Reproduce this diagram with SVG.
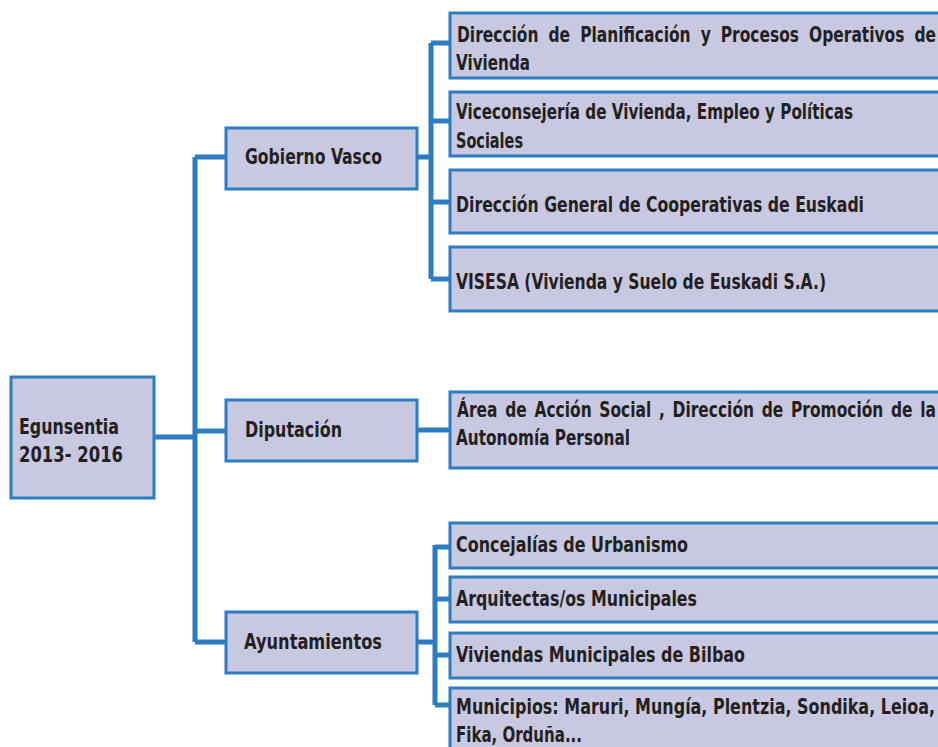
<svg xmlns="http://www.w3.org/2000/svg" width="938" height="747" viewBox="0 0 938 747">
<style>
.box{fill:#c8c8e0;stroke:#2d7cc0;stroke-width:3}
.ln{fill:none;stroke:#2d7cc0;stroke-width:5}
text{font-family:"Liberation Sans Narrow","DejaVu Sans Condensed","Liberation Sans",sans-serif;font-weight:bold;font-size:22px;fill:#231f20}
.j{word-spacing:6px}
.j2{word-spacing:3px}
</style>
<rect width="938" height="747" fill="#ffffff"/>
<g id="connectors">
<path class="ln" d="M154 437H195M195 157V642M195 157H226M195 431H226M195 642H226"/>
<path class="ln" d="M417 157H431M431 43V279M431 43H450M431 121H450M431 202H450M431 279H450"/>
<path class="ln" d="M417 430H450"/>
<path class="ln" d="M417 642H435M435 545V705M435 547H450M435 599H450M435 655H450M435 705H450"/>
</g>
<g id="root"><rect class="box" x="11" y="377" width="143" height="121"/>
<text x="19" y="434" textLength="100" lengthAdjust="spacingAndGlyphs">Egunsentia</text>
<text x="19" y="462" textLength="104" lengthAdjust="spacingAndGlyphs">2013- 2016</text></g>
<g id="gobierno"><rect class="box" x="226" y="128" width="191" height="61"/>
<text x="245" y="164" textLength="137" lengthAdjust="spacingAndGlyphs">Gobierno Vasco</text></g>
<g id="diputacion"><rect class="box" x="226" y="400" width="191" height="61"/>
<text x="245" y="437" textLength="97" lengthAdjust="spacingAndGlyphs">Diputación</text></g>
<g id="ayuntamientos"><rect class="box" x="226" y="612" width="191" height="61"/>
<text x="244" y="649" textLength="138" lengthAdjust="spacingAndGlyphs">Ayuntamientos</text></g>
<g id="c1"><rect class="box" x="450" y="13" width="495" height="65"/>
<text class="j" x="457" y="42" textLength="479" lengthAdjust="spacingAndGlyphs">Dirección de Planificación y Procesos Operativos de</text>
<text x="456" y="70" textLength="74" lengthAdjust="spacingAndGlyphs">Vivienda</text></g>
<g id="c2"><rect class="box" x="450" y="92" width="495" height="64"/>
<text x="456" y="119" textLength="397" lengthAdjust="spacingAndGlyphs">Viceconsejería de Vivienda, Empleo y Políticas</text>
<text x="456" y="148" textLength="67" lengthAdjust="spacingAndGlyphs">Sociales</text></g>
<g id="c3"><rect class="box" x="450" y="170" width="495" height="63"/>
<text x="456" y="212" textLength="408" lengthAdjust="spacingAndGlyphs">Dirección General de Cooperativas de Euskadi</text></g>
<g id="c4"><rect class="box" x="450" y="247" width="495" height="64"/>
<text x="456" y="289" textLength="370" lengthAdjust="spacingAndGlyphs">VISESA (Vivienda y Suelo de Euskadi S.A.)</text></g>
<g id="c5"><rect class="box" x="450" y="392" width="495" height="76"/>
<text class="j2" x="457" y="417" textLength="479" lengthAdjust="spacingAndGlyphs">Área de Acción Social , Dirección de Promoción de la</text>
<text x="456" y="445" textLength="174" lengthAdjust="spacingAndGlyphs">Autonomía Personal</text></g>
<g id="c6"><rect class="box" x="450" y="523" width="495" height="45"/>
<text x="456" y="552" textLength="232" lengthAdjust="spacingAndGlyphs">Concejalías de Urbanismo</text></g>
<g id="c7"><rect class="box" x="450" y="577" width="495" height="45"/>
<text x="456" y="606" textLength="241" lengthAdjust="spacingAndGlyphs">Arquitectas/os Municipales</text></g>
<g id="c8"><rect class="box" x="450" y="633" width="495" height="45"/>
<text x="456" y="662" textLength="289" lengthAdjust="spacingAndGlyphs">Viviendas Municipales de Bilbao</text></g>
<g id="c9"><rect class="box" x="450" y="688" width="495" height="70"/>
<text x="456" y="714" textLength="479" lengthAdjust="spacingAndGlyphs">Municipios: Maruri, Mungía, Plentzia, Sondika, Leioa,</text>
<text x="456" y="742" textLength="126" lengthAdjust="spacingAndGlyphs">Fika, Orduña...</text></g>
</svg>
